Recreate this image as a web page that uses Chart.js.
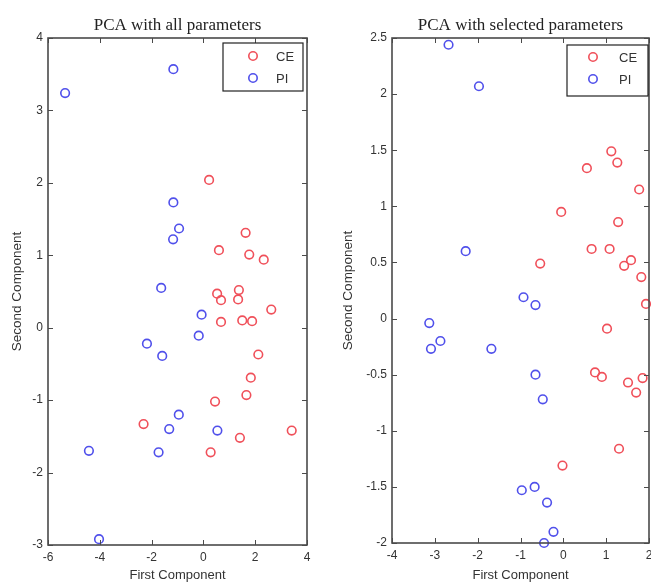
<!DOCTYPE html>
<html>
<head>
<meta charset="utf-8">
<script src="https://cdn.jsdelivr.net/npm/chart.js@4.4.1/dist/chart.umd.min.js"></script>
<style>
  html, body { margin: 0; padding: 0; background: #fff; width: 651px; height: 583px; overflow: hidden; }
  #c1, #c2 { position: absolute; top: 0; }
  #c1 { left: 0; }
  #c2 { left: 325px; }
</style>
</head>
<body>
<canvas id="c1" width="355" height="583"></canvas>
<canvas id="c2" width="391" height="583"></canvas>
<script>
// ---- Data: PCA with all parameters ----
const allCEx = [0.22, 1.63, 0.60, 1.77, 2.33, 0.53, 1.37, 0.68, 1.34, 2.62, 0.68, 1.50, 1.88, 2.12, 1.83, 1.66, 0.45, -2.31, 3.41, 1.41, 0.28];
const allCEy = [2.04, 1.31, 1.07, 1.01, 0.94, 0.47, 0.52, 0.38, 0.39, 0.25, 0.08, 0.10, 0.09, -0.37, -0.69, -0.93, -1.02, -1.33, -1.42, -1.52, -1.72];
const allPIx = [-5.34, -1.16, -1.16, -0.94, -1.17, -1.63, -0.07, -0.18, -2.18, -1.59, -0.95, -1.32, 0.54, -4.42, -1.73, -4.03];
const allPIy = [3.24, 3.57, 1.73, 1.37, 1.22, 0.55, 0.18, -0.11, -0.22, -0.39, -1.20, -1.40, -1.42, -1.70, -1.72, -2.92];

// ---- Data: PCA with selected parameters ----
const selCEx = [1.12, 1.26, 0.55, 1.77, -0.05, 1.28, 0.66, 1.08, 1.58, 1.42, 1.82, -0.54, 1.93, 1.02, 0.74, 0.90, 1.51, 1.85, 1.70, 1.30, -0.02];
const selCEy = [1.49, 1.39, 1.34, 1.15, 0.95, 0.86, 0.62, 0.62, 0.52, 0.47, 0.37, 0.49, 0.13, -0.09, -0.48, -0.52, -0.57, -0.53, -0.66, -1.16, -1.31];
const selPIx = [-2.68, -1.97, -2.28, -0.93, -0.65, -3.13, -2.87, -3.09, -1.68, -0.65, -0.48, -0.97, -0.67, -0.38, -0.23, -0.45];
const selPIy = [2.44, 2.07, 0.60, 0.19, 0.12, -0.04, -0.20, -0.27, -0.27, -0.50, -0.72, -1.53, -1.50, -1.64, -1.90, -2.00];

const seriesLabels = ['CE', 'PI'];
const titles = ['PCA with all parameters', 'PCA with selected parameters'];
const xAxisTitle = 'First Component';
const yAxisTitle = 'Second Component';

const xTicksAll = [-6, -4, -2, 0, 2, 4];
const yTicksAll = [-3, -2, -1, 0, 1, 2, 3, 4];
const xTicksSel = [-4, -3, -2, -1, 0, 1, 2];
const yTicksSel = [-2, -1.5, -1, -0.5, 0, 0.5, 1, 1.5, 2, 2.5];

const RED = 'rgb(240,80,90)';
const BLUE = 'rgb(80,80,235)';
const AXIS = '#4a4a4a';
const TXT = '#333333';
const SANS = '"Liberation Sans", Arial, sans-serif';

function pts(xs, ys) { return xs.map((x, i) => ({ x: x, y: ys[i] })); }

// Box + inward ticks (MATLAB style)
const boxPlugin = {
  id: 'boxTicks',
  afterDatasetsDraw(chart) {
    const { ctx, chartArea: a, scales } = chart;
    const xs = scales.x, ys = scales.y;
    ctx.save();
    ctx.strokeStyle = AXIS;
    ctx.lineWidth = 1;
    const L = 5;
    ctx.beginPath();
    xs.ticks.forEach((t, i) => {
      const px = Math.round(xs.getPixelForTick(i)) + 0.5;
      ctx.moveTo(px, a.bottom); ctx.lineTo(px, a.bottom - L);
      ctx.moveTo(px, a.top); ctx.lineTo(px, a.top + L);
    });
    ys.ticks.forEach((t, i) => {
      const py = Math.round(ys.getPixelForTick(i)) + 0.5;
      ctx.moveTo(a.left, py); ctx.lineTo(a.left + L, py);
      ctx.moveTo(a.right, py); ctx.lineTo(a.right - L, py);
    });
    ctx.stroke();
    ctx.lineWidth = 1.6;
    ctx.strokeRect(a.left, a.top, a.right - a.left, a.bottom - a.top);
    ctx.restore();
  }
};

// Legend box inside the plot (top right)
const boxLegend = {
  id: 'boxLegend',
  afterDraw(chart, args, opts) {
    const { ctx, chartArea: a } = chart;
    const w = opts.width, h = opts.height;
    const left = a.right - opts.insetRight - w;
    const top = a.top + opts.insetTop;
    ctx.save();
    ctx.fillStyle = '#fff';
    ctx.fillRect(left, top, w, h);
    ctx.strokeStyle = '#222';
    ctx.lineWidth = 1.2;
    ctx.strokeRect(left, top, w, h);
    ctx.font = '13px ' + SANS;
    ctx.textBaseline = 'middle';
    chart.data.datasets.forEach((ds, i) => {
      const cy = top + opts.rowTop + i * opts.rowGap;
      ctx.beginPath();
      ctx.strokeStyle = ds.borderColor;
      ctx.lineWidth = 1.6;
      ctx.arc(left + opts.markerX, cy, 4.2, 0, Math.PI * 2);
      ctx.stroke();
      ctx.fillStyle = TXT;
      ctx.fillText(ds.label, left + opts.textX, cy + 1);
    });
    ctx.restore();
  }
};

function makeChart(id, cfg) {
  const ds = (label, xs, ys, color) => ({
    label: label,
    data: pts(xs, ys),
    borderColor: color,
    backgroundColor: 'rgba(0,0,0,0)',
    pointRadius: 4.3,
    pointHoverRadius: 4.3,
    pointBorderWidth: 1.6,
    showLine: false,
    clip: false
  });
  return new Chart(document.getElementById(id), {
    type: 'scatter',
    data: {
      datasets: [
        ds(seriesLabels[0], cfg.ceX, cfg.ceY, RED),
        ds(seriesLabels[1], cfg.piX, cfg.piY, BLUE)
      ]
    },
    plugins: [boxPlugin, boxLegend],
    options: {
      responsive: false,
      animation: false,
      events: [],
      layout: { padding: 0 },
      plugins: {
        legend: { display: false },
        tooltip: { enabled: false },
        title: {
          display: true,
          text: cfg.title,
          color: '#222',
          font: { family: '"Liberation Serif", "Times New Roman", serif', size: 17, weight: 'normal', lineHeight: 1.2 },
          padding: { top: 15, bottom: 2.6 }
        },
        boxLegend: cfg.legend
      },
      scales: {
        x: {
          type: 'linear',
          min: cfg.xMin, max: cfg.xMax,
          afterBuildTicks: (s) => { s.ticks = cfg.xTicks.map(v => ({ value: v })); },
          afterFit: (s) => { s.height = cfg.xAxisH; },
          grid: { display: false, drawTicks: false },
          border: { display: false },
          ticks: { color: TXT, padding: 5, font: { family: SANS, size: 12 }, callback: (v) => String(v), maxRotation: 0, autoSkip: false },
          title: { display: true, text: xAxisTitle, color: TXT, font: { family: SANS, size: 13 }, padding: { top: 0, bottom: 0 } }
        },
        y: {
          type: 'linear',
          position: 'left',
          min: cfg.yMin, max: cfg.yMax,
          afterBuildTicks: (s) => { s.ticks = cfg.yTicks.map(v => ({ value: v })); },
          afterFit: (s) => { s.width = cfg.yAxisW; },
          grid: { display: false, drawTicks: false },
          border: { display: false },
          ticks: { color: TXT, padding: 5, font: { family: SANS, size: 12 }, callback: (v) => String(v), autoSkip: false },
          title: { display: true, text: yAxisTitle, color: TXT, font: { family: SANS, size: 13.5 }, padding: { top: cfg.yTitlePad, bottom: 0 } }
        },
        ySpacer: {
          type: 'linear',
          position: 'right',
          display: true,
          afterFit: (s) => { s.width = cfg.yAxisW; },
          grid: { display: false, drawTicks: false },
          border: { display: false },
          ticks: { display: false },
          title: { display: false }
        }
      }
    }
  });
}

makeChart('c1', {
  title: titles[0],
  ceX: allCEx, ceY: allCEy, piX: allPIx, piY: allPIy,
  xMin: -6, xMax: 4, yMin: -3, yMax: 4,
  xTicks: xTicksAll, yTicks: yTicksAll,
  yAxisW: 48, xAxisH: 38, yTitlePad: 9,
  legend: { width: 80, height: 48, insetRight: 4, insetTop: 5, markerX: 30, textX: 53, rowTop: 13, rowGap: 22 }
});

makeChart('c2', {
  title: titles[1],
  ceX: selCEx, ceY: selCEy, piX: selPIx, piY: selPIy,
  xMin: -4, xMax: 2, yMin: -2, yMax: 2.5,
  xTicks: xTicksSel, yTicks: yTicksSel,
  yAxisW: 67, xAxisH: 40, yTitlePad: 15,
  legend: { width: 81, height: 51, insetRight: 1, insetTop: 7, markerX: 26, textX: 52, rowTop: 12, rowGap: 22 }
});
</script>
</body>
</html>
